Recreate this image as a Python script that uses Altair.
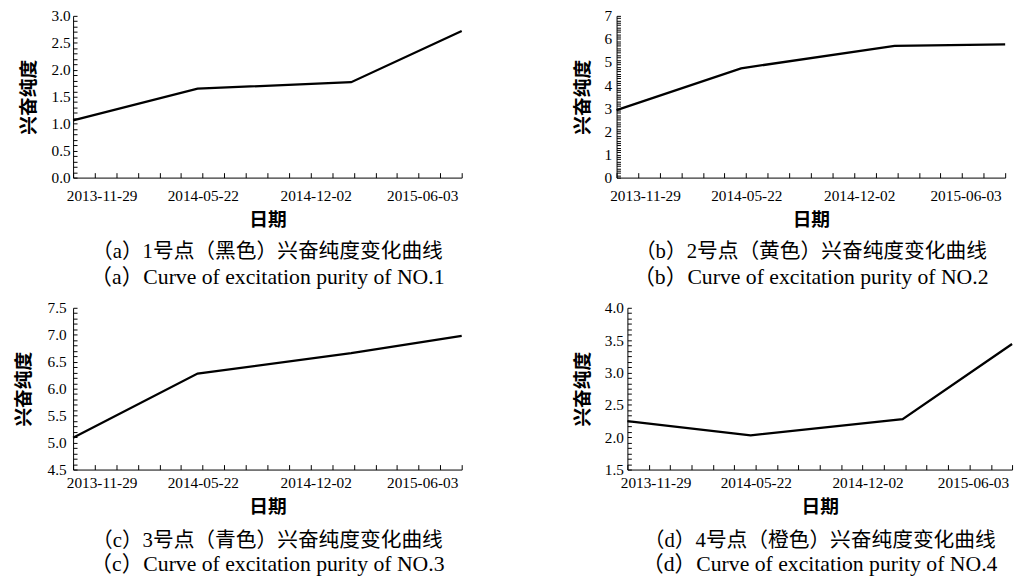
import altair as alt
import pandas as pd

# ---- data ----
dates = ["2013-10-11", "2014-05-13", "2015-02-01", "2015-08-10"]
label_dates = ["2013-11-29", "2014-05-22", "2014-12-02", "2015-06-03"]
purity_1 = [1.06, 1.65, 1.77, 2.72]
purity_2 = [2.92, 4.73, 5.70, 5.77]
purity_3 = [5.09, 6.28, 6.66, 6.98]
purity_4 = [2.25, 2.03, 2.28, 3.44]

cn_titles = ["（a）1号点（黑色）兴奋纯度变化曲线", "（b）2号点（黄色）兴奋纯度变化曲线",
             "（c）3号点（青色）兴奋纯度变化曲线", "（d）4号点（橙色）兴奋纯度变化曲线"]
en_titles = ["（a）Curve of excitation purity of NO.1", "（b）Curve of excitation purity of NO.2",
             "（c）Curve of excitation purity of NO.3", "（d）Curve of excitation purity of NO.4"]
y_ranges = [(0.0, 3.0), (0, 7), (4.5, 7.5), (1.5, 4.0)]
y_major = [[0.0, 0.5, 1.0, 1.5, 2.0, 2.5, 3.0], [0, 1, 2, 3, 4, 5, 6, 7],
           [4.5, 5.0, 5.5, 6.0, 6.5, 7.0, 7.5], [1.5, 2.0, 2.5, 3.0, 3.5, 4.0]]
y_fmt = [".1f", "d", ".1f", ".1f"]
y_minor_step = [0.1, 0.1, 0.1, 0.5 / 6]

H = 164
NUM = "Liberation Serif"
CJK = "Noto Sans CJK SC"
MIX = "Liberation Serif, Noto Sans CJK SC"


def ms(s):
    return int(pd.Timestamp(s).value // 10**6)


t0, t1 = ms(dates[0]), ms(dates[-1])
label_ms = [ms(d) for d in label_dates]


def panel(i, values, W, ylab_pad, ytitle_pad, xlab_pad, xtitle_pad, cap_offset, sub_pad):
    lo, hi = y_ranges[i]
    n = int(round((hi - lo) / y_minor_step[i]))
    y_minor = [round(lo + k * y_minor_step[i], 4) for k in range(n + 1)]
    x_step = (t1 - t0) * 21.9 / 394
    x_minor = [t0 + k * x_step for k in range(19) if t0 + k * x_step <= t1] + [t1]
    df = pd.DataFrame({"date": dates, "value": values})
    base = alt.Chart(df)
    line = base.mark_line(color="black", strokeWidth=2.3).encode(
        x=alt.X("date:T", scale=alt.Scale(domain=[t0, t1]),
                axis=alt.Axis(values=label_ms, labelExpr="utcFormat(datum.value, '%Y-%m-%d')",
                              ticks=False, labelPadding=xlab_pad, title="日期",
                              titlePadding=xtitle_pad, labelFont=NUM, labelFontSize=15.5,
                              titleFont=CJK, titleFontSize=19, titleFontWeight="bold",
                              labelColor="black", titleColor="black", domainColor="black",
                              grid=False, labelOverlap=False, labelFlush=False)),
        y=alt.Y("value:Q", scale=alt.Scale(domain=[lo, hi], nice=False, zero=False),
                axis=alt.Axis(values=y_major[i], format=y_fmt[i], ticks=False,
                              labelPadding=ylab_pad, title="兴奋纯度", titlePadding=ytitle_pad,
                              labelFont=NUM, labelFontSize=15.5, titleFont=CJK,
                              titleFontSize=19, titleFontWeight="bold",
                              labelColor="black", titleColor="black", domainColor="black",
                              grid=False)),
    )
    ticks = base.mark_line(strokeOpacity=0).encode(
        x=alt.X("date:T", title=None,
                axis=alt.Axis(orient="top", offset=-H, labels=False, domain=False,
                              tickSize=5, tickColor="black", values=x_minor, grid=False)),
        y=alt.Y("value:Q", title=None,
                axis=alt.Axis(orient="right", offset=-W, labels=False, domain=False,
                              tickSize=4, tickColor="black", values=y_minor, grid=False)),
    )
    return alt.layer(line, ticks).resolve_axis(x="independent", y="independent").properties(
        width=W, height=H,
        title=alt.TitleParams(text=cn_titles[i], subtitle=en_titles[i], orient="bottom",
                              anchor="middle", font=MIX, fontSize=21, fontWeight="normal",
                              color="black", subtitleFont=MIX,
                              subtitleFontSize=22, subtitleColor="black", subtitlePadding=sub_pad,
                              offset=cap_offset),
    )


panels = [
    panel(0, purity_1, 394, 3, 13, 11, 7, 12, 5),
    panel(1, purity_2, 394, 5, 12, 11, 7, 12, 5),
    panel(2, purity_3, 394, 7, 14, 6, 7, 14, 3),
    panel(3, purity_4, 390, 4, 12, 6, 7, 14, 3),
]
chart = alt.concat(*panels, columns=2, align="none",
                   spacing=alt.RowColnumber(row=13, column=108)).properties(
    padding={"left": 6, "top": -3, "right": 0, "bottom": 0}
).configure_view(stroke=None)

chart.save("out.html", embed_options={"renderer": "svg", "actions": False})
